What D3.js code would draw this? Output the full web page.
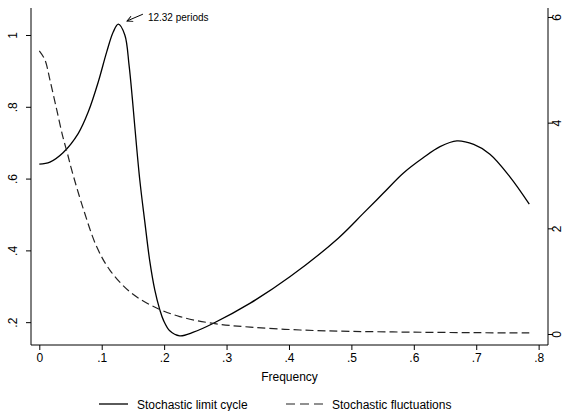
<!DOCTYPE html>
<html>
<head>
<meta charset="utf-8">
<script src="https://cdn.jsdelivr.net/npm/d3@7"></script>
<style>
  body { margin: 0; background: #fff; }
  text { font-family: "Liberation Sans", Arial, sans-serif; fill: #000; }
</style>
</head>
<body>
<div id="canvas"></div>
<script>
// spectral density, stochastic limit cycle (left axis)
const cycleFreq = [0, 0.017, 0.038, 0.0625, 0.0785, 0.0946, 0.108, 0.1186, 0.1266, 0.137, 0.1438,
                   0.149, 0.153, 0.161, 0.169, 0.177, 0.185, 0.193, 0.199, 0.209, 0.225, 0.247,
                   0.279, 0.338, 0.402, 0.479, 0.519, 0.551, 0.583, 0.615, 0.642, 0.669, 0.696,
                   0.722, 0.754, 0.785];
const cycleVal  = [0.640, 0.646, 0.672, 0.726, 0.786, 0.870, 0.953, 1.009, 1.030, 1.000, 0.916,
                   0.824, 0.745, 0.596, 0.480, 0.370, 0.290, 0.235, 0.205, 0.176, 0.162, 0.172,
                   0.197, 0.253, 0.327, 0.434, 0.503, 0.559, 0.615, 0.658, 0.689, 0.705, 0.695,
                   0.668, 0.605, 0.529];

// stochastic fluctuations (right axis)
const flucFreq = [0, 0.009, 0.017, 0.028, 0.038, 0.045, 0.052, 0.071, 0.092, 0.113, 0.145, 0.183,
                  0.225, 0.279, 0.338, 0.418, 0.5, 0.6, 0.7, 0.785];
const flucVal  = [5.36, 5.19, 4.81, 4.24, 3.72, 3.42, 3.10, 2.35, 1.65, 1.21, 0.80, 0.52,
                  0.33, 0.20, 0.13, 0.076, 0.05, 0.035, 0.025, 0.02];

const xTicks = [0, 0.1, 0.2, 0.3, 0.4, 0.5, 0.6, 0.7, 0.8];
const leftTicks = [0.2, 0.4, 0.6, 0.8, 1];
const rightTicks = [0, 2, 4, 6];
const fmt = d => d === 0 ? "0" : (d === 1 ? "1" : String(d).replace(/^0/, ""));

const W = 566, H = 411;
const L = 31, R = 548, T = 8, B = 345;

let svg = d3.select("#canvas").append("svg")
    .attr("width", W).attr("height", H)

const x = d3.scaleLinear().domain([-0.0133, 0.815]).range([L, R])
const yL = d3.scaleLinear().domain([0.1364, 1.0752]).range([B, T])
const yR = d3.scaleLinear().domain([-0.208, 6.17]).range([B, T])

// axes
svg.append("g").attr("transform", `translate(0,${B})`)
    .call(d3.axisBottom(x).tickValues(xTicks).tickFormat(fmt).tickSize(5).tickPadding(3))
    .call(g => g.select(".domain").attr("d", `M${L},0H${R}`))
svg.append("g").attr("transform", `translate(${L},0)`)
    .call(d3.axisLeft(yL).tickValues(leftTicks).tickFormat(fmt).tickSize(5).tickPadding(9))
    .call(g => g.select(".domain").attr("d", `M0,${T}V${B}`))
    .selectAll(".tick text")
    .attr("transform", "rotate(-90)").attr("text-anchor", "middle").attr("x", 0).attr("y", -14).attr("dy", 0)
svg.append("g").attr("transform", `translate(${R},0)`)
    .call(d3.axisRight(yR).tickValues(rightTicks).tickFormat(fmt).tickSize(5))
    .call(g => g.select(".domain").attr("d", `M0,${T}V${B}`))
    .selectAll(".tick text")
    .attr("transform", "rotate(-90)").attr("text-anchor", "middle").attr("x", 0).attr("y", 13).attr("dy", 0)

svg.selectAll(".tick text").attr("font-size", 12).attr("font-family", "Liberation Sans")
svg.selectAll(".domain, .tick line").attr("stroke", "#000").attr("stroke-width", 1)

svg.append("text").attr("x", (L + R) / 2).attr("y", 381)
    .attr("text-anchor", "middle").attr("font-size", 12).text("Frequency")

// lines
const cycle = cycleFreq.map((f, i) => [f, cycleVal[i]])
const fluc = flucFreq.map((f, i) => [f, flucVal[i]])

svg.append("path").datum(cycle)
    .attr("fill", "none").attr("stroke", "#000").attr("stroke-width", 1.3)
    .attr("d", d3.line().x(d => x(d[0])).y(d => yL(d[1])).curve(d3.curveCatmullRom.alpha(0.5)))

svg.append("path").datum(fluc)
    .attr("fill", "none").attr("stroke", "#222").attr("stroke-width", 1.2)
    .attr("stroke-dasharray", "8,4")
    .attr("d", d3.line().x(d => x(d[0])).y(d => yR(d[1])).curve(d3.curveCatmullRom.alpha(0.5)))

// annotation at the peak
svg.append("defs").append("marker")
    .attr("id", "arr").attr("viewBox", "0 0 10 10").attr("refX", 9).attr("refY", 5)
    .attr("markerWidth", 7).attr("markerHeight", 7).attr("orient", "auto")
    .append("path").attr("d", "M1,1L9,5L1,9").attr("fill", "none").attr("stroke", "#000").attr("stroke-width", 1.3)
svg.append("line")
    .attr("x1", x(0.166)).attr("y1", yL(1.058))
    .attr("x2", x(0.1405)).attr("y2", yL(1.039))
    .attr("stroke", "#000").attr("stroke-width", 1).attr("marker-end", "url(#arr)")
svg.append("text").attr("x", x(0.174)).attr("y", yL(1.04))
    .attr("font-size", 10).text("12.32 periods")

// legend
const lg = svg.append("g").attr("transform", "translate(0,404)")
lg.append("line").attr("x1", 99).attr("x2", 128).attr("y1", 0).attr("y2", 0)
    .attr("stroke", "#000").attr("stroke-width", 1.3)
lg.append("text").attr("x", 137).attr("y", 4.5).attr("font-size", 12).text("Stochastic limit cycle")
lg.append("line").attr("x1", 286).attr("x2", 323).attr("y1", 0).attr("y2", 0)
    .attr("stroke", "#222").attr("stroke-width", 1.2).attr("stroke-dasharray", "9,5")
lg.append("text").attr("x", 332).attr("y", 4.5).attr("font-size", 12).text("Stochastic fluctuations")
</script>
</body>
</html>
